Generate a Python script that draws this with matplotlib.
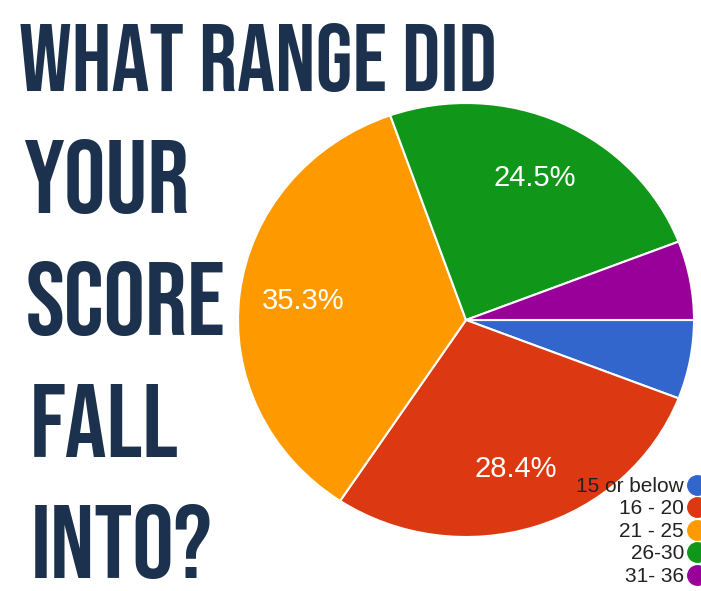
import matplotlib
matplotlib.use("Agg")
import matplotlib.pyplot as plt
from matplotlib.lines import Line2D

# survey answers (counts, 102 responses)
ranges = ["15 or below", "16 - 20", "21 - 25", "26-30", "31- 36"]
counts = [6, 29, 36, 25, 6]
colors = ["#3366cc", "#dc3912", "#ff9900", "#109618", "#990099"]

title_lines = ["WHAT RANGE DID", "YOUR", "SCORE", "FALL", "INTO?"]
navy = "#1b314d"
title_fonts = ["Bebas Neue", "League Gothic", "Oswald", "Fjalla One",
               "IBM Plex Sans Condensed", "DejaVu Sans"]

W, H = 701, 591
fig = plt.figure(figsize=(W / 100, H / 100), dpi=100)
fig.patch.set_facecolor("white")

# big condensed title down the left side
baselines = [91, 213, 335, 457, 578]
lefts = [19, 23, 26, 30, 31]
titles = []
for line, base, left in zip(title_lines, baselines, lefts):
    t = fig.text(left / W, 1 - base / H, line, ha="left", va="baseline",
                 fontsize=60, fontweight="bold", family=title_fonts, color=navy)
    titles.append(t)

# first line is fitted to its width in the screenshot, the short lines
# are a bit bigger (the original font is wider than Bebas)
r = fig.canvas.get_renderer()
w0 = titles[0].get_window_extent(r).width
size = 60 * 478 / w0
titles[0].set_fontsize(size)
for t in titles[1:]:
    t.set_fontsize(size * 1.1)

# pie (slightly squashed, like the screenshot)
ax = fig.add_axes([238 / W, 54 / H, 456 / W, 434 / H])
wedges, texts, autotexts = ax.pie(
    counts, colors=colors, startangle=0, counterclock=False,
    autopct=lambda p: f"{p:.1f}%" if p > 10 else "",
    pctdistance=0.72,
    wedgeprops=dict(edgecolor="white", linewidth=1.5),
    textprops=dict(color="white", fontsize=21, family="Liberation Sans"))
ax.set_aspect("auto")
ax.set_xlim(-1, 1)
ax.set_ylim(-1, 1)
ax.axis("off")

# legend bottom right, markers after the labels
handles = [Line2D([], [], marker="o", ls="", ms=14, color=c) for c in colors]
fig.legend(handles, ranges, loc="lower right", bbox_to_anchor=(707 / W, 5 / H),
           markerfirst=False, frameon=False, borderpad=0, borderaxespad=0,
           handlelength=1.0, handletextpad=0.1, labelspacing=0.17,
           prop=dict(family="Liberation Sans", size=15), labelcolor="#222222")

fig.savefig("out.png", dpi=100, facecolor="white")
